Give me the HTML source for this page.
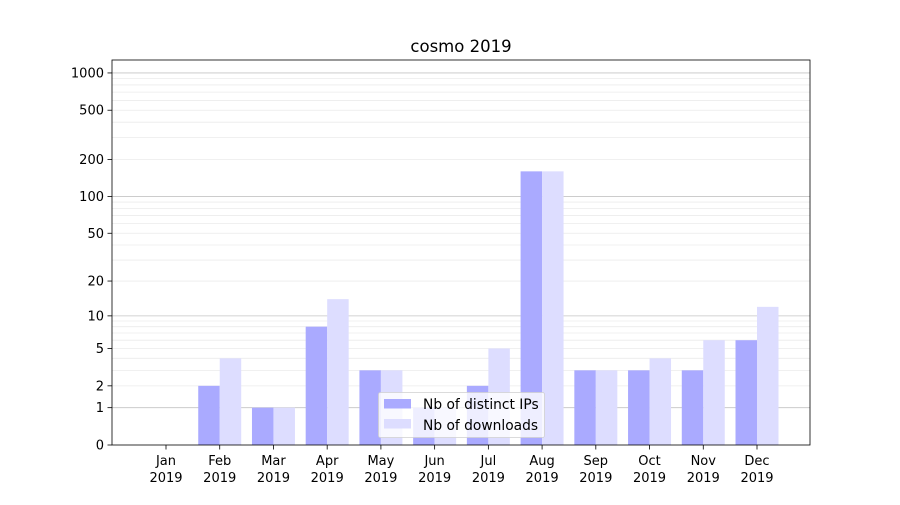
<!DOCTYPE html>
<html><head><meta charset="utf-8"><style>
body{margin:0;background:#fff}
svg text{font-family:"DejaVu Sans","Liberation Sans",sans-serif;fill:#000}
</style></head><body>
<svg id="s" width="900" height="500" xmlns="http://www.w3.org/2000/svg"></svg>
<script>
const s=document.getElementById('s');
let h='<rect width="900" height="500" fill="#fff"/>';
const Y=v=>445-124*Math.log10(1+v);
for(const d of [1,10,100]){for(let k=2;k<=9;k++){const y=Y(k*d).toFixed(2);h+=`<line x1="112" x2="810" y1="${y}" y2="${y}" stroke="#ebebeb" stroke-width="0.8"/>`;}}
for(const v of [1,10,100,1000]){const y=Y(v).toFixed(2);h+=`<line x1="112" x2="810" y1="${y}" y2="${y}" stroke="#c4c4c4" stroke-width="0.8"/>`;}
const ip=[0,2,1,8,3,1,2,160,3,3,3,6],dl=[0,4,1,14,3,1,5,160,3,4,6,12];
const m=['Jan','Feb','Mar','Apr','May','Jun','Jul','Aug','Sep','Oct','Nov','Dec'];
const step=(757-166)/11,w=step*0.4;
for(let i=0;i<12;i++){const c=166+i*step;
 if(ip[i]>0){const y=Y(ip[i]);h+=`<rect x="${c-w}" y="${y}" width="${w}" height="${445-y}" fill="#aaaaff"/>`;}
 if(dl[i]>0){const y=Y(dl[i]);h+=`<rect x="${c}" y="${y}" width="${w}" height="${445-y}" fill="#ddddff"/>`;}
 h+=`<line x1="${c}" x2="${c}" y1="445" y2="449.5" stroke="#000" stroke-width="0.8"/>`;
 h+=`<text x="${c}" y="465" font-size="13" text-anchor="middle">${m[i]}</text><text x="${c}" y="482" font-size="13" text-anchor="middle">2019</text>`;
}
for(const v of [0,1,2,5,10,20,50,100,200,500,1000]){const y=Y(v);
 h+=`<line x1="107.5" x2="112" y1="${y}" y2="${y}" stroke="#000" stroke-width="0.8"/>`;
 h+=`<text x="104" y="${y+4.5}" font-size="13" text-anchor="end">${v}</text>`;}
h+='<rect x="112" y="60" width="698" height="385" fill="none" stroke="#000" stroke-width="0.8"/>';
h+='<text x="461" y="52" font-size="16.5" text-anchor="middle">cosmo 2019</text>';
h+='<rect x="378.5" y="392.5" width="166" height="45" rx="2" fill="#fff" fill-opacity="0.8" stroke="#d0d0d0" stroke-width="0.8"/>';
h+='<rect x="384" y="399" width="27" height="9.5" fill="#aaaaff"/><text x="423" y="409" font-size="13.8">Nb of distinct IPs</text>';
h+='<rect x="384" y="419" width="27" height="9.5" fill="#ddddff"/><text x="423" y="430" font-size="13.8">Nb of downloads</text>';
s.innerHTML=h;
</script>
</body></html>
